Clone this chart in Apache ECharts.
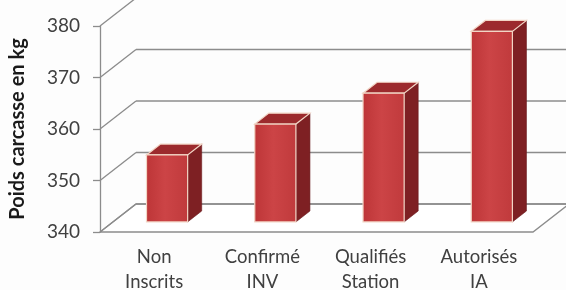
<!DOCTYPE html>
<html>
<head>
<meta charset="utf-8">
<script src="https://cdn.jsdelivr.net/npm/echarts@6/dist/echarts.min.js"></script>
<style>
  html, body { margin: 0; padding: 0; background: #fdfdfd; }
  #chart { width: 566px; height: 290px; }
</style>
</head>
<body>
<div id="chart"></div>
<script>
// donnees
const categories = ['Non\nInscrits', 'Confirmé\nINV', 'Qualifiés\nStation', 'Autorisés\nIA'];
const poids = [353, 359, 365, 377];
const yTicks = [340, 350, 360, 370, 380];

// profondeur 3D (decalage du mur du fond)
const DX = 36, DY = -28;
const D0 = 0.36, D1 = 0.75; // face avant / arriere des barres
const BAR_W = 0.38;

function wallItem(params, api) {
  const cs = params.coordSys;
  const v = api.value(0);
  const y = api.coord([0, v])[1];
  const left = cs.x, right = cs.x + cs.width;
  const line = { stroke: '#8c8c8c', lineWidth: 1.3 };
  const children = [];
  if (v === yTicks[0]) {
    children.push({
      type: 'polygon',
      shape: { points: [[left, y], [right, y], [right + DX, y + DY], [left + DX, y + DY]] },
      style: { fill: '#ffffff', stroke: '#8c8c8c', lineWidth: 1.3 }
    });
  }
  children.push({ type: 'line', shape: { x1: left, y1: y, x2: left + DX, y2: y + DY }, style: line });
  children.push({ type: 'line', shape: { x1: left + DX, y1: y + DY, x2: right + DX, y2: y + DY }, style: line });
  return { type: 'group', children: children };
}

function barItem(params, api) {
  const i = api.value(0);
  const base = api.coord([i, yTicks[0]]);
  const top = api.coord([i, api.value(1)]);
  const w = api.size([1, 0])[0] * BAR_W;
  const fx = base[0] - w / 2 + DX * D0;
  const by = base[1] + DY * D0;
  const ty = top[1] + DY * D0;
  const ddx = DX * (D1 - D0), ddy = DY * (D1 - D0);
  const edge = '#f2d5c5';
  return {
    type: 'group',
    children: [
      {
        type: 'polygon',
        shape: { points: [[fx + w, by], [fx + w + ddx, by + ddy], [fx + w + ddx, ty + ddy], [fx + w, ty]] },
        style: { fill: '#7e2023', stroke: '#6a1a1c', lineWidth: 0.6 }
      },
      {
        type: 'polygon',
        shape: { points: [[fx, ty], [fx + w, ty], [fx + w + ddx, ty + ddy], [fx + ddx, ty + ddy]] },
        style: { fill: '#9c2a2d', stroke: edge, lineWidth: 1.2 }
      },
      {
        type: 'rect',
        shape: { x: fx, y: ty, width: w, height: by - ty },
        style: {
          fill: new echarts.graphic.LinearGradient(0, 0, 1, 0, [
            { offset: 0, color: '#bd3537' },
            { offset: 0.45, color: '#cc4446' },
            { offset: 1, color: '#c03a3c' }
          ]),
          stroke: edge,
          lineWidth: 1.2
        }
      }
    ]
  };
}

const chart = echarts.init(document.getElementById('chart'));
chart.setOption({
  backgroundColor: '#fdfdfd',
  animation: false,
  textStyle: { fontFamily: 'Lato' },
  grid: { left: 100, right: 33, top: 26, bottom: 58, outerBoundsMode: 'none', containLabel: false },
  xAxis: {
    type: 'category',
    data: categories,
    axisLine: { show: false },
    axisTick: { show: false },
    axisLabel: { color: '#404040', fontSize: 18.5, lineHeight: 25, margin: 13, interval: 0 }
  },
  yAxis: {
    type: 'value',
    min: 340,
    max: 380,
    interval: 10,
    name: 'Poids carcasse en kg',
    nameLocation: 'middle',
    nameRotate: 90,
    nameGap: 72,
    nameTextStyle: { color: '#1a1a1a', fontSize: 20, fontWeight: 'bold' },
    axisLine: { show: true, lineStyle: { color: '#8c8c8c', width: 1.3 } },
    axisTick: { show: true, length: 7, lineStyle: { color: '#8c8c8c', width: 1.3 } },
    axisLabel: { color: '#404040', fontSize: 19, margin: 20 },
    splitLine: { show: false }
  },
  series: [
    {
      type: 'custom',
      renderItem: wallItem,
      data: yTicks.map(v => [v]),
      encode: { y: 0 },
      z: 1,
      silent: true
    },
    {
      type: 'custom',
      renderItem: barItem,
      data: poids.map((v, i) => [i, v]),
      encode: { x: 0, y: 1 },
      z: 2
    }
  ]
});
window.addEventListener('resize', function() {
  chart.resize();
});
</script>
</body>
</html>
